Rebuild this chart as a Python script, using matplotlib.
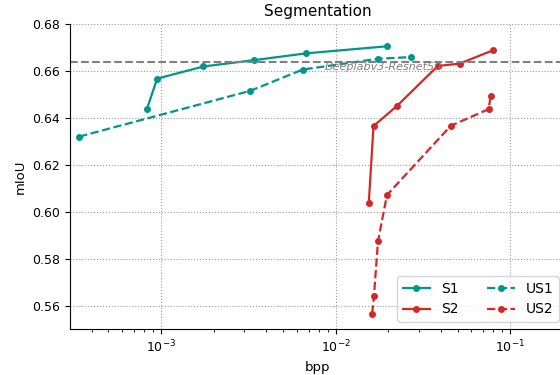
import matplotlib
matplotlib.use("Agg")
import matplotlib.pyplot as plt

s1_x = [8.3e-4, 9.5e-4, 1.75e-3, 3.42e-3, 6.8e-3, 0.0197]
s1_y = [0.6437, 0.6567, 0.6619, 0.6646, 0.6675, 0.6705]
us1_x = [3.4e-4, 3.24e-3, 6.5e-3, 0.0176, 0.027]
us1_y = [0.6320, 0.6515, 0.6606, 0.6652, 0.6659]
s2_x = [0.0155, 0.0165, 0.0225, 0.0385, 0.0513, 0.0798]
s2_y = [0.6038, 0.6365, 0.6451, 0.6621, 0.6631, 0.6688]
us2_x = [0.0162, 0.0166, 0.0175, 0.0197, 0.0457, 0.0753, 0.0774]
us2_y = [0.5566, 0.5642, 0.5874, 0.6071, 0.6366, 0.6437, 0.6494]
baseline = 0.6640
baseline_label = "Deeplabv3-Resnet50"

teal = "#00968a"
red = "#d62728"

fig = plt.figure(figsize=(5.6, 3.75), dpi=100)
ax = fig.add_axes([0.125, 0.1227, 0.8857, 0.8133])

ax.plot(s1_x, s1_y, color=teal, ls='-', marker='o', ms=4, lw=1.6, label='S1')
ax.plot(s2_x, s2_y, color=red, ls='-', marker='o', ms=4, lw=1.6, label='S2')
ax.plot(us1_x, us1_y, color=teal, ls='--', marker='o', ms=4, lw=1.6, label='US1')
ax.plot(us2_x, us2_y, color=red, ls='--', marker='o', ms=4, lw=1.6, label='US2')

ax.axhline(baseline, color='gray', ls='--', lw=1.5)
ax.text(8.7e-3, baseline - 0.0003, baseline_label, color='gray', style='italic',
        fontsize=8, ha='left', va='top', zorder=5)

ax.set_xscale('log')
ax.set_xlim(3.01e-4, 0.209)
ax.set_ylim(0.55, 0.68)
ax.set_yticks([0.56, 0.58, 0.60, 0.62, 0.64, 0.66, 0.68])
ax.yaxis.set_major_formatter(matplotlib.ticker.FormatStrFormatter('%.2f'))
ax.tick_params(labelsize=9)
ax.grid(True, which='major', ls=':', color='gray', lw=0.8, alpha=0.8)
ax.spines['top'].set_visible(False)
ax.spines['right'].set_visible(False)
ax.set_title('Segmentation', fontsize=11)
ax.set_xlabel('bpp', fontsize=9.5)
ax.set_ylabel('mIoU', fontsize=9.5)
ax.legend(loc='lower right', ncol=2, fontsize=10)

fig.savefig('out.png', dpi=100)
